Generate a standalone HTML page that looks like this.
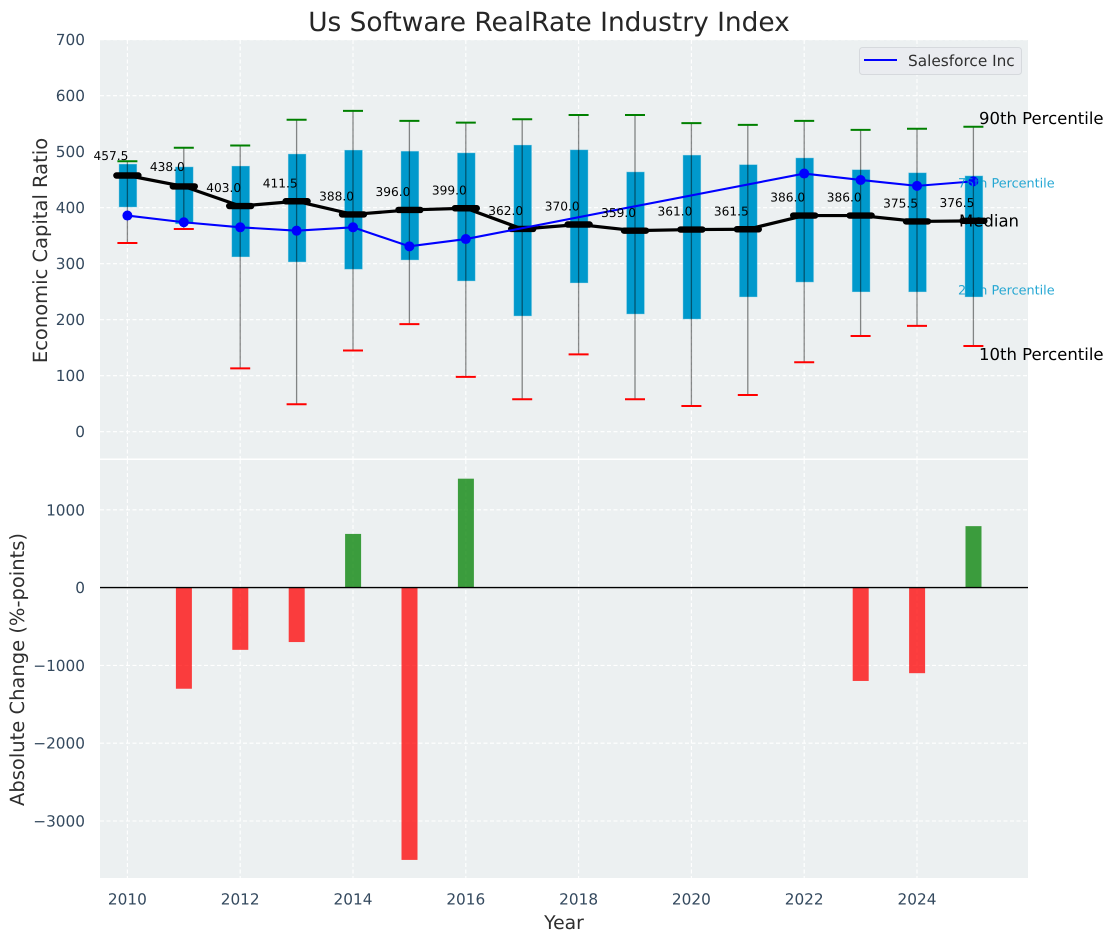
<!DOCTYPE html>
<html lang="en">
<head>
<meta charset="utf-8">
<title>Us Software RealRate Industry Index</title>
<style>
html,body{margin:0;padding:0;background:#fff;width:1114px;height:942px;overflow:hidden}
svg{display:block;font-family:"DejaVu Sans","Liberation Sans",sans-serif;text-rendering:geometricPrecision}
</style>
</head>
<body>
<svg id="chart" xmlns="http://www.w3.org/2000/svg" width="1114" height="942" viewBox="0 0 1114 942">
  <rect x="100" y="40" width="928" height="418.5" fill="#ecf0f1"/>
  <rect x="100" y="460" width="928" height="418" fill="#ecf0f1"/>
  <g id="grid"></g>
  <g id="ticks" fill="#34495e" font-size="15.3"></g>
  <g id="upper-marks"></g>
  <g id="lower-marks"></g>
  <line x1="100" x2="1028" y1="587.6" y2="587.6" stroke="#000" stroke-width="1.4"/>
  <g fill="#0099cc" fill-opacity="0.85" font-size="12.8">
    <text x="958" y="187.5">75th Percentile</text>
    <text x="958" y="294.5">25th Percentile</text>
  </g>
  <g fill="#000" font-size="16.5">
    <text x="979" y="124">90th Percentile</text>
    <text x="959" y="226.5">Median</text>
    <text x="979" y="360">10th Percentile</text>
  </g>
  <text x="549" y="31" text-anchor="middle" font-size="26.4" fill="#262626">Us Software RealRate Industry Index</text>
  <text transform="translate(47 250.5) rotate(-90)" text-anchor="middle" font-size="19.5" fill="#2f2f2f">Economic Capital Ratio</text>
  <text transform="translate(24 669.5) rotate(-90)" text-anchor="middle" font-size="19.5" fill="#2f2f2f">Absolute Change (%-points)</text>
  <text x="564" y="929" text-anchor="middle" font-size="18.8" fill="#2f2f2f">Year</text>
  <g>
    <rect x="859.5" y="47.5" width="162" height="27" rx="3" fill="#eaecf0" stroke="#d6d9dd"/>
    <line x1="864" x2="897" y1="60" y2="60" stroke="#0000ff" stroke-width="2"/>
    <text x="908" y="66" font-size="15.3" fill="#2f2f2f">Salesforce Inc</text>
  </g>
</svg>
<script>
const years = [2010,2011,2012,2013,2014,2015,2016,2017,2018,2019,2020,2021,2022,2023,2024,2025];
const p90 = [483,507,511,557,573,555,552,558,565.5,565.5,551,548,555,539,541,544.5];
const p75 = [478,473,474.5,496,503,501,498,512,503.5,464,494,477,489,468,462.5,457];
const median = [457.5,438,403,411.5,388,396,399,362,370,359,361,361.5,386,386,375.5,376.5];
const p25 = [401,371,312,303,290,306.5,269,206.5,265.5,210,201,240.5,267,249.5,249.5,240.5];
const p10 = [337,362,113,49,145,192,98,58,138,58,46,65.5,124,171,189,153];
const salesforce = [386,374,365,359,365,331,344,null,null,null,null,null,461,449.5,439,447];
const absoluteChange = [0,-1300,-800,-700,690,-3500,1400,0,0,0,0,0,0,-1200,-1100,790];
const upperTicks = [0,100,200,300,400,500,600,700];
const lowerTicks = [1000,0,-1000,-2000,-3000];
const xTicks = [2010,2012,2014,2016,2018,2020,2022,2024];

const NS = 'http://www.w3.org/2000/svg';
function xScale(year){ return 127.4 + (year - 2010) * 56.4; }
function yUpper(v){ return 431.7 - v * 0.56; }
function yLower(v){ return 587.6 - v * 0.0778; }
function make(tag, attrs, parent){
  const el = document.createElementNS(NS, tag);
  for (const k in attrs) el.setAttribute(k, attrs[k]);
  parent.appendChild(el);
  return el;
}
const gridG = document.getElementById('grid');
const ticksG = document.getElementById('ticks');
const upperG = document.getElementById('upper-marks');
const lowerG = document.getElementById('lower-marks');
const gridStyle = {stroke:'#ffffff','stroke-width':1.1,'stroke-dasharray':'4 2.5'};

upperTicks.forEach(function(t){
  const y = yUpper(t);
  const g = make('line', Object.assign({x1:100,x2:1028,y1:y,y2:y}, gridStyle), gridG);
  
  
  const l = make('text', {x:85,y:y+5.5,'text-anchor':'end'}, ticksG);
  l.textContent = String(t);
  
  
});
lowerTicks.forEach(function(t){
  const y = yLower(t);
  const g = make('line', Object.assign({x1:100,x2:1028,y1:y,y2:y}, gridStyle), gridG);
  
  
  const l = make('text', {x:85,y:y+5.5,'text-anchor':'end'}, ticksG);
  l.textContent = String(t).replace('-', '\u2212');
  
  
});
xTicks.forEach(function(t){
  const x = xScale(t);
  const a = make('line', Object.assign({x1:x,x2:x,y1:40,y2:458.5}, gridStyle), gridG);
  
  
  const b = make('line', Object.assign({x1:x,x2:x,y1:460,y2:878}, gridStyle), gridG);
  
  
  const l = make('text', {x:x,y:904.5,'text-anchor':'middle'}, ticksG);
  l.textContent = String(t);
  
  
});

years.forEach(function(yr, i){
  const x = xScale(yr);
  const box = make('rect', {x:x-8.5,width:18,y:yUpper(p75[i]),height:yUpper(p25[i])-yUpper(p75[i]),fill:'#0099cc',stroke:'#bfe3ee','stroke-opacity':0.5,'stroke-width':0.8}, upperG);
  
  
  const w = make('line', {x1:x,x2:x,y1:yUpper(p90[i]),y2:yUpper(p10[i]),stroke:'#000','stroke-opacity':0.45,'stroke-width':1.3}, upperG);
  
  
  const c1 = make('line', {x1:x-10,x2:x+10,y1:yUpper(p90[i]),y2:yUpper(p90[i]),stroke:'#008000','stroke-width':2}, upperG);
  
  
  const c2 = make('line', {x1:x-10,x2:x+10,y1:yUpper(p10[i]),y2:yUpper(p10[i]),stroke:'#ff0000','stroke-width':2}, upperG);
  
  
});

const medPoints = years.map(function(yr, i){ return xScale(yr) + ',' + yUpper(median[i]); });
const medLine = make('polyline', {points:medPoints.join(' '),fill:'none',stroke:'#000','stroke-width':3.2}, upperG);


years.forEach(function(yr, i){
  const x = xScale(yr), y = yUpper(median[i]);
  const m = make('line', {x1:x-11,x2:x+11,y1:y,y2:y,stroke:'#000','stroke-width':6.4,'stroke-linecap':'round'}, upperG);
  
  
});

const sfPoints = [];
years.forEach(function(yr, i){
  if (salesforce[i] !== null) sfPoints.push(xScale(yr) + ',' + yUpper(salesforce[i]));
});
const sfLine = make('polyline', {points:sfPoints.join(' '),fill:'none',stroke:'#0000ff','stroke-width':2.1}, upperG);


years.forEach(function(yr, i){
  if (salesforce[i] === null) return;
  const m = make('circle', {cx:xScale(yr),cy:yUpper(salesforce[i]),r:5,fill:'#0000ff'}, upperG);
  
  
});

years.forEach(function(yr, i){
  const x = xScale(yr), y = yUpper(median[i]);
  const t = make('text', {x:x+1,y:y-(median[i] > 430 ? 15.6 : 13.8),'text-anchor':'end','font-size':12.2,fill:'#000'}, upperG);
  t.textContent = median[i].toFixed(1);
  
  
});

years.forEach(function(yr, i){
  const v = absoluteChange[i];
  if (!v) return;
  const y0 = yLower(0), y1 = yLower(v);
  const b = make('rect', {x:xScale(yr)-7.9,width:16,y:Math.min(y0,y1),height:Math.abs(y1-y0),fill:v>0?'#008000':'#ff0000','fill-opacity':0.75}, lowerG);
  
  
});
</script>
</body>
</html>
